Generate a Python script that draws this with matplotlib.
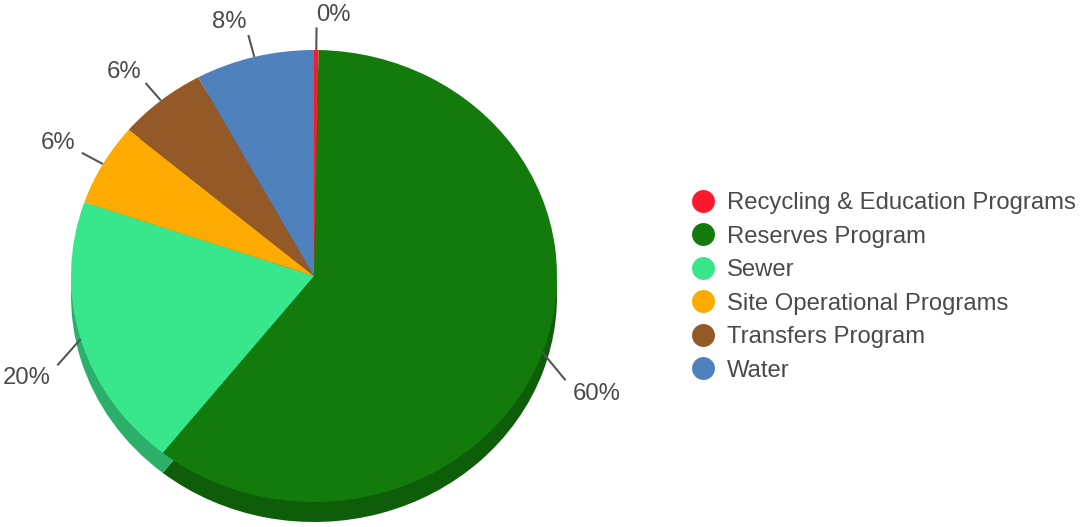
import numpy as np
import matplotlib as mpl
mpl.use('Agg')
import matplotlib.pyplot as plt
from matplotlib.lines import Line2D
from matplotlib.colors import to_rgb

# data
categories = ['Recycling & Education Programs', 'Reserves Program', 'Sewer',
              'Site Operational Programs', 'Transfers Program', 'Water']
values = [0.3, 60.4, 19.6, 5.9, 5.9, 7.9]
colors = ['#fb1a2d', '#137b0b', '#38e68c', '#fdab00', '#935a28', '#4f81bd']

plt.rcParams['font.family'] = ['Liberation Sans', 'DejaVu Sans']
text_color = '#4a4a4a'
fsize = 17.2

fig = plt.figure(figsize=(10.82, 5.27), dpi=100)
W, H = 1082, 527
# pie axes: top face spans x 71..557, y 50..502 px; depth adds 20 px below
ax = fig.add_axes([71 / W, (H - 522) / H, 486 / W, 472 / H])
depth = 20 / 226

side_colors = [tuple(c * 0.76 for c in to_rgb(col)) for col in colors]

# 3d side: darker pie shifted down, then top face
ax.pie(values, colors=side_colors, startangle=90, counterclock=False,
       center=(0, -depth), radius=1, wedgeprops=dict(linewidth=0))
ax.pie(values, colors=colors, startangle=90, counterclock=False,
       center=(0, 0), radius=1, wedgeprops=dict(linewidth=0))
ax.set_aspect('auto')
ax.set_xlim(-1, 1)
ax.set_ylim(-1 - depth, 1)
ax.axis('off')

# percent labels with leader lines
total = sum(values)
cum = np.cumsum(values) - np.array(values) / 2
for v, c in zip(values, cum):
    theta = np.deg2rad(90 - 360 * c / total)
    dx, dy = np.cos(theta), np.sin(theta)
    shift = -depth if dy < 0 else 0
    ax.plot([dx, 1.1 * dx], [dy, 1.1 * dy + shift], color='#555555', lw=1.5,
            clip_on=False, solid_capstyle='butt')
    ha = 'left' if dx >= 0 else 'right'
    va = 'top' if dy < 0 else 'baseline'
    ax.text(1.13 * dx, 1.13 * dy + shift, f'{round(v / total * 100):.0f}%',
            ha=ha, va=va, fontsize=fsize, color=text_color, clip_on=False)

# legend
handles = [Line2D([], [], marker='o', linestyle='', markersize=16.5,
                  markerfacecolor=col, markeredgewidth=0) for col in colors]
fig.legend(handles, categories, loc='center left',
           bbox_to_anchor=(691 / W, (H - 287) / H), frameon=False,
           fontsize=fsize, labelcolor=text_color, handlelength=1.0,
           handletextpad=0.5, labelspacing=0.48, borderpad=0, borderaxespad=0)

fig.savefig('out.png', dpi=100)
